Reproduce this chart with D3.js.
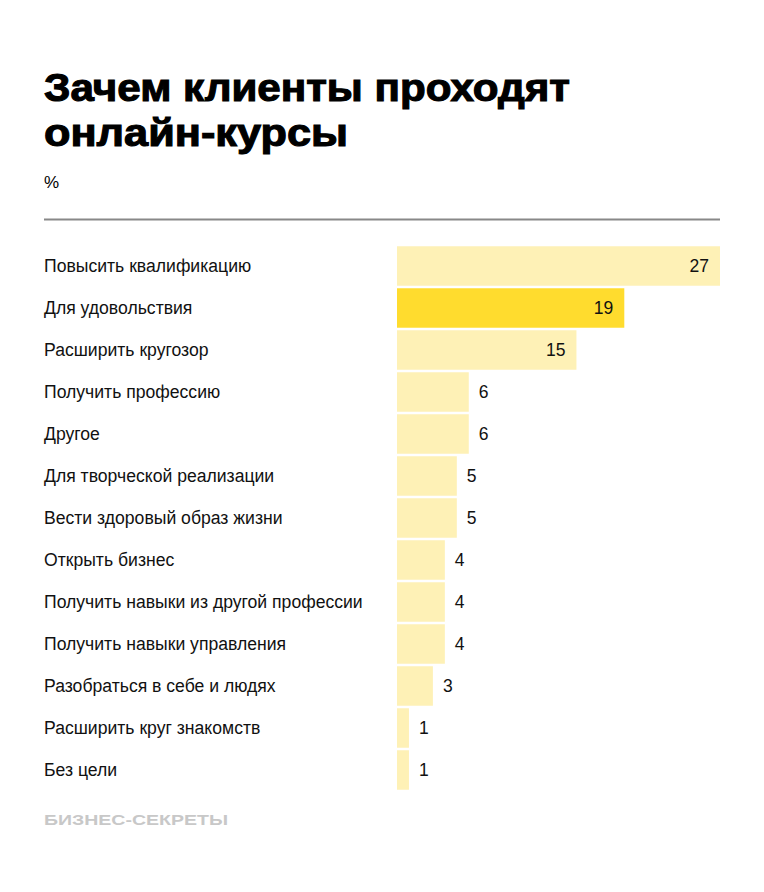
<!DOCTYPE html>
<html><head><meta charset="utf-8">
<script src="https://cdn.jsdelivr.net/npm/d3@7"></script>
<style>
body{margin:0;background:#fff;}
svg{display:block;font-family:"Liberation Sans",Arial,sans-serif;}
</style></head>
<body><svg id="c" width="764" height="892"></svg>
<script>
const categories = ["Повысить квалификацию","Для удовольствия","Расширить кругозор","Получить профессию","Другое","Для творческой реализации","Вести здоровый образ жизни","Открыть бизнес","Получить навыки из другой профессии","Получить навыки управления","Разобраться в себе и людях","Расширить круг знакомств","Без цели"];
const values = [27,19,15,6,6,5,5,4,4,4,3,1,1];
const highlighted = ["Для удовольствия"];
const titleLines = ["Зачем клиенты проходят","онлайн-курсы"];
const unitLabel = "%";
const sourceLabel = "БИЗНЕС-СЕКРЕТЫ";

const svg = d3.select("#c");
const data = categories.map((c,i)=>({c, v: values[i]}));

// title
const t = svg.append("g");
const titleWidths = [526, 304];
titleLines.forEach((l,i)=>{
  t.append("text").attr("x",44).attr("y",101+i*45).attr("font-size",39).attr("font-weight",700)
   .attr("fill","#000").attr("stroke","#000").attr("stroke-width",1.1)
   .attr("textLength",titleWidths[i]).attr("lengthAdjust","spacingAndGlyphs").text(l);
});

svg.append("text").attr("x",44).attr("y",188).attr("font-size",17).attr("fill","#000").text(unitLabel);
svg.append("line").attr("x1",44).attr("x2",720).attr("y1",219.5).attr("y2",219.5).attr("stroke","#888").attr("stroke-width",2);

const x = d3.scaleLinear().domain([0, d3.max(values)]).range([397, 720]);
const y = d3.scaleBand().domain(categories).range([245, 791]).paddingInner(0.06).paddingOuter(0.03);

const row = svg.append("g").selectAll("g").data(data).join("g");
row.append("rect").attr("x",x(0)).attr("y",d=>y(d.c)).attr("width",d=>x(d.v)-x(0)).attr("height",y.bandwidth())
  .attr("fill",d=>highlighted.includes(d.c)?"#FFDC2E":"#FEF1B6");
row.append("text").attr("x",44).attr("y",d=>y(d.c)+y.bandwidth()/2+6).attr("font-size",17.6).attr("fill","#111").text(d=>d.c);
row.append("text")
  .attr("x",d=> d.v>=10 ? x(d.v)-11 : x(d.v)+10)
  .attr("text-anchor",d=> d.v>=10 ? "end":"start")
  .attr("y",d=>y(d.c)+y.bandwidth()/2+6).attr("font-size",17.5).attr("fill","#111").text(d=>d.v);

svg.append("text").attr("x",44).attr("y",825).attr("font-size",15.5).attr("font-weight",700)
  .attr("fill","#c8c8c8").attr("textLength",184).attr("lengthAdjust","spacingAndGlyphs").text(sourceLabel);
</script></body></html>
